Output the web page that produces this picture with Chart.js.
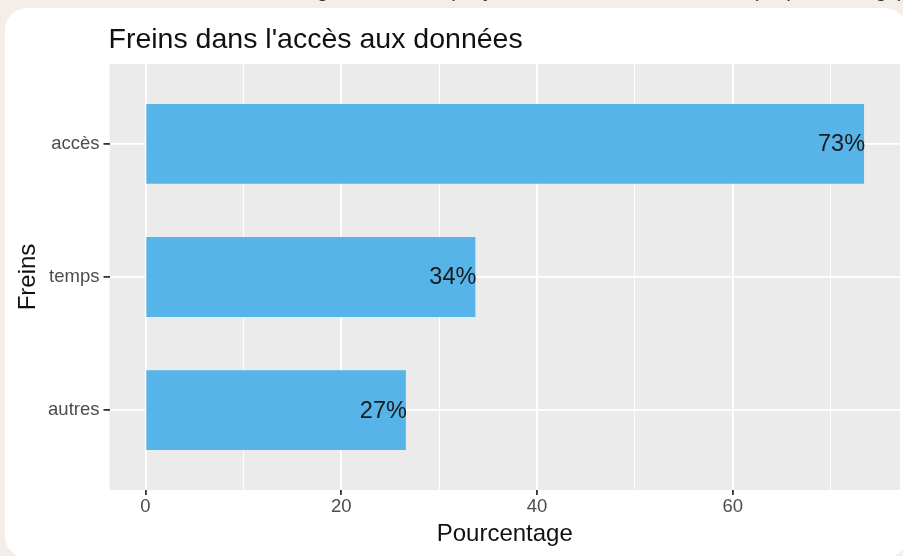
<!DOCTYPE html>
<html lang="fr">
<head>
<meta charset="utf-8">
<title>Freins dans l'accès aux données</title>
<script src="https://cdn.jsdelivr.net/npm/chart.js@4.4.1/dist/chart.umd.min.js"></script>
<style>
    html, body { margin: 0; padding: 0; }
    body {
        width: 903px; height: 556px; overflow: hidden; position: relative;
        background: #f3eee8; font-family: "Liberation Sans", Arial, sans-serif;
    }
    .caption {
        position: absolute; left: 300px; top: -20px;
        font-size: 20px; line-height: 20px; color: #333; white-space: nowrap;
    }
    .card {
        position: absolute; left: 5px; top: 8px; width: 902px; height: 550px;
        background: #fff; border-radius: 22px;
    }
    #chartCanvas { position: absolute; left: 0; top: 0; }
</style>
</head>
<body>
<div class="caption">Figure 3 : Freins perçus dans l'accès aux données (en pourcentage)</div>
<div class="card"></div>
<canvas id="chartCanvas" width="903" height="556"></canvas>
<script>
// Chart data
const categories = ['accès', 'temps', 'autres'];
const percentages = [73.4, 33.7, 26.6];
const valueLabels = ['73%', '34%', '27%'];
const xTickValues = [0, 10, 20, 30, 40, 50, 60, 70];

const chartTitle = "Freins dans l'accès aux données";
const xTitle = 'Pourcentage';
const yTitle = 'Freins';

const FONT = '"Liberation Sans", Arial, sans-serif';
const BAR_COLOR = '#56b4e9';
const PANEL_COLOR = '#ebebeb';
const DISCRETE_EXPAND = 0.6; // ggplot adds 0.6 of a category on each side

// ggplot style: grey panel behind the grid
const panelBackground = {
    id: 'panelBackground',
    beforeDraw(chart) {
        const { ctx, chartArea } = chart;
        ctx.save();
        ctx.fillStyle = PANEL_COLOR;
        ctx.fillRect(chartArea.left, chartArea.top, chartArea.right - chartArea.left, chartArea.bottom - chartArea.top);
        ctx.restore();
    }
};

// title aligned with the panel's left edge
const plotTitle = {
    id: 'plotTitle',
    afterDraw(chart) {
        const { ctx, chartArea } = chart;
        ctx.save();
        ctx.font = `28.5px ${FONT}`;
        ctx.fillStyle = '#111';
        ctx.textAlign = 'left';
        ctx.textBaseline = 'alphabetic';
        ctx.fillText(chartTitle, chartArea.left - 1, 48);
        ctx.restore();
    }
};

// percentage labels, right aligned at the end of each bar
const barLabels = {
    id: 'barLabels',
    afterDatasetsDraw(chart) {
        const { ctx } = chart;
        const meta = chart.getDatasetMeta(0);
        ctx.save();
        ctx.font = `23.5px ${FONT}`;
        ctx.fillStyle = '#1a1a1a';
        ctx.textAlign = 'right';
        ctx.textBaseline = 'middle';
        meta.data.forEach((bar, i) => {
            ctx.fillText(valueLabels[i], bar.x + 1, bar.y + 1);
        });
        ctx.restore();
    }
};

function renderChart(canvasId) {
    const ctx = document.getElementById(canvasId).getContext('2d');
    const xMax = Math.max(...percentages);

    new Chart(ctx, {
        type: 'bar',
        data: {
            labels: categories,
            datasets: [{
                data: percentages,
                backgroundColor: BAR_COLOR,
                borderWidth: 0,
                barPercentage: 0.6,
                categoryPercentage: 1,
            }],
        },
        options: {
            responsive: false,
            animation: false,
            indexAxis: 'y',
            layout: { padding: { top: 64, right: 3, left: 0, bottom: 0 } },
            plugins: {
                legend: { display: false },
                tooltip: { enabled: false },
            },
            scales: {
                x: {
                    type: 'linear',
                    min: -xMax * 0.05,
                    max: xMax * 1.05,
                    afterBuildTicks: (scale) => {
                        scale.ticks = xTickValues.map((v) => ({ value: v }));
                    },
                    afterFit: (scale) => { scale.height = 66; },
                    border: { display: false },
                    grid: {
                        color: '#ffffff',
                        lineWidth: (c) => (c.tick && c.tick.value % 20 === 0 ? 1.8 : 0.9),
                        tickColor: (c) => (c.tick && c.tick.value % 20 === 0 ? '#333333' : 'rgba(0,0,0,0)'),
                        tickWidth: 1.8,
                        tickLength: 5,
                    },
                    ticks: {
                        autoSkip: false,
                        maxRotation: 0,
                        padding: 1,
                        color: '#4d4d4d',
                        font: { family: FONT, size: 18.5 },
                        callback: (v) => (v % 20 === 0 ? v : ''),
                    },
                    title: {
                        display: true,
                        text: xTitle,
                        color: '#111',
                        font: { family: FONT, size: 24 },
                        padding: { top: 0, bottom: 7 },
                    },
                },
                y: {
                    type: 'category',
                    afterBuildTicks: (scale) => {
                        // widen the discrete range like ggplot does
                        scale._startValue = scale.min - DISCRETE_EXPAND;
                        scale._valueRange = (scale.max - scale.min) + 2 * DISCRETE_EXPAND;
                    },
                    afterFit: (scale) => { scale.width = 109.5; },
                    border: { display: false },
                    grid: {
                        offset: false,
                        color: '#ffffff',
                        lineWidth: 1.8,
                        tickColor: '#333333',
                        tickWidth: 1.8,
                        tickLength: 6,
                    },
                    ticks: {
                        padding: 4,
                        color: '#4d4d4d',
                        font: { family: FONT, size: 18.5 },
                    },
                    title: {
                        display: true,
                        text: yTitle,
                        color: '#111',
                        font: { family: FONT, size: 24 },
                        padding: { top: 14, bottom: 0 },
                    },
                },
            },
        },
        plugins: [panelBackground, plotTitle, barLabels],
    });
}

document.addEventListener('DOMContentLoaded', () => {
    renderChart('chartCanvas');
});
</script>
</body>
</html>
